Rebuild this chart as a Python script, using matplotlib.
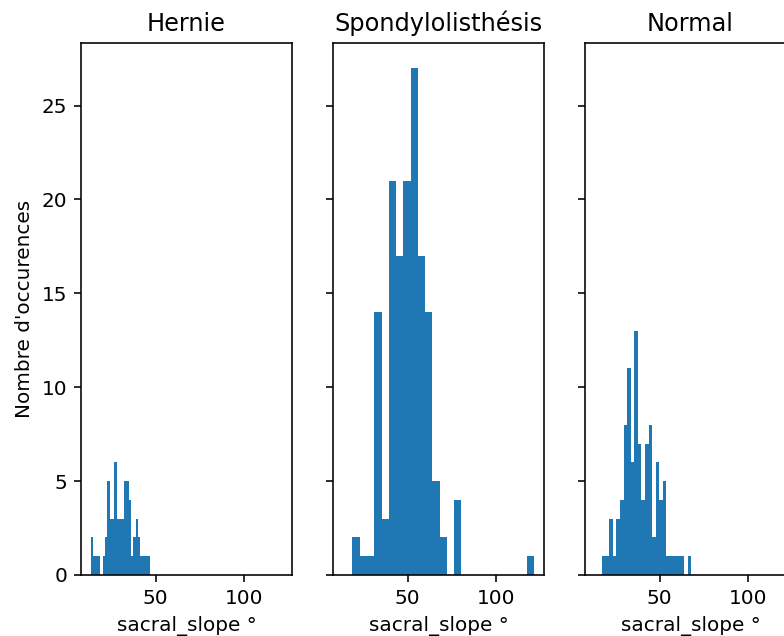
import numpy as np
import matplotlib
matplotlib.use("Agg")
import matplotlib.pyplot as plt

titles = ["Hernie", "Spondylolisthésis", "Normal"]
xlabel = "sacral_slope °"
ylabel = "Nombre d'occurences"

# histogram counts (25 equal bins over each class's data range)
hernie_counts = [2, 1, 1, 1, 0, 1, 2, 5, 3, 3, 6, 3, 3, 3, 5, 5, 4, 1, 2, 3, 2, 1, 1, 1, 1]
spondy_counts = [2, 1, 1, 14, 3, 21, 17, 21, 27, 17, 14, 5, 2, 0, 4, 0, 0, 0, 0, 0, 0, 0, 0, 0, 1]
normal_counts = [1, 1, 3, 1, 3, 4, 8, 11, 6, 13, 7, 4, 7, 8, 2, 6, 4, 5, 1, 1, 1, 1, 1, 0, 1]

# data ranges (min, max) of sacral_slope per class
hernie_range = (13.37, 46.6)
spondy_range = (18.8, 121.43)
normal_range = (17.5, 67.9)

counts_list = [hernie_counts, spondy_counts, normal_counts]
ranges_list = [hernie_range, spondy_range, normal_range]

W, H, DPI = 784, 636, 144
fig = plt.figure(figsize=(W / DPI, H / DPI), dpi=DPI)

left_px = [81.3, 333.3, 585.3]
ax_w = 210.4 / W
ax_b = 61.0 / H
ax_h = 532.3 / H

axes = []
for i, lp in enumerate(left_px):
    if i == 0:
        ax = fig.add_axes([lp / W, ax_b, ax_w, ax_h])
    else:
        ax = fig.add_axes([lp / W, ax_b, ax_w, ax_h], sharex=axes[0], sharey=axes[0])
    axes.append(ax)

for ax, title, counts, rng in zip(axes, titles, counts_list, ranges_list):
    n = len(counts)
    edges = np.linspace(rng[0], rng[1], n + 1)
    centers = (edges[:-1] + edges[1:]) / 2
    ax.hist(centers, bins=edges, weights=counts, color="#1f77b4")
    ax.set_title(title)
    ax.set_xlabel(xlabel)

axes[0].set_ylabel(ylabel)
for ax in axes[1:]:
    ax.tick_params(labelleft=False)

axes[0].set_xticks([50, 100])
axes[0].set_yticks([0, 5, 10, 15, 20, 25])

fig.savefig("out.png", dpi=DPI)
